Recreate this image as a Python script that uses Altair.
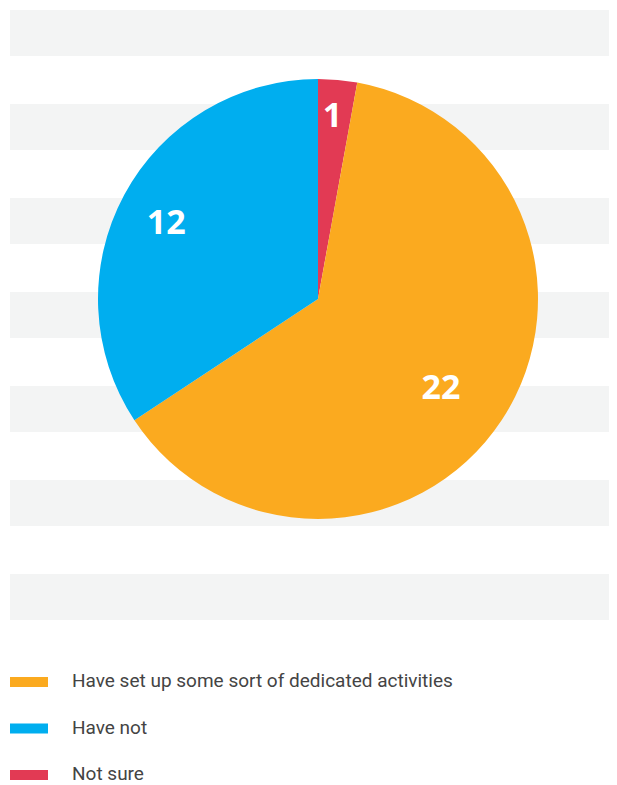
import altair as alt
import pandas as pd

# Data
categories = ["Not sure", "Have set up some sort of dedicated activities", "Have not"]
values = [1, 22, 12]
colors = ["#E23A54", "#FBAA1F", "#00AEEF"]
legend_order = ["Have set up some sort of dedicated activities", "Have not", "Not sure"]
band_rows = list(range(7))

pie_df = pd.DataFrame({"category": categories, "value": values, "order": [0, 1, 2]})
legend_df = pd.DataFrame({"category": legend_order})
bands_df = pd.DataFrame({"row": band_rows})

color_scale = alt.Scale(domain=categories, range=colors)
CX, CY = 310, 291

bands = alt.Chart(bands_df).mark_rect(color="#F3F4F4").encode(
    x=alt.value(2), x2=alt.value(601),
    y=alt.Y("row:O", axis=None,
            scale=alt.Scale(range=[2, 612], paddingInner=0.5106, paddingOuter=0)),
)

arc = alt.Chart(pie_df).mark_arc(outerRadius=220).encode(
    theta=alt.Theta("value:Q", stack=True),
    color=alt.Color("category:N", scale=color_scale, legend=None),
    order=alt.Order("order:Q"),
    x=alt.value(CX), y=alt.value(CY),
)


def label(cat, r, dx, dy):
    return alt.Chart(pie_df).mark_text(
        radius=r, font="Open Sans", fontSize=34, fontWeight="bold",
        color="white", align="center", baseline="middle", dx=dx, dy=dy,
    ).encode(
        theta=alt.Theta("value:Q", stack=True),
        order=alt.Order("order:Q"),
        text=alt.condition(f"datum.category === '{cat}'", alt.Text("value:Q"), alt.value("")),
        x=alt.value(CX), y=alt.value(CY),
    )


lab1 = label("Not sure", 184, -2, 1)
lab2 = label("Have set up some sort of dedicated activities", 151, -3, 7)
lab3 = label("Have not", 169, -3, 5)

leg_y = alt.Y("category:N", sort=legend_order, axis=None,
              scale=alt.Scale(range=[674, 767], padding=0))

leg_sym = alt.Chart(legend_df).mark_point(
    shape="M-1,-0.263H1V0.263H-1Z", size=1444, filled=True, opacity=1, strokeWidth=0,
).encode(
    x=alt.value(21), y=leg_y,
    color=alt.Color("category:N", scale=color_scale, legend=None),
)

leg_txt = alt.Chart(legend_df).mark_text(
    align="left", baseline="middle", font="Roboto", fontSize=19, color="#444444", dy=-1,
).encode(
    x=alt.value(64), y=leg_y, text="category:N",
)

chart = alt.layer(bands, arc, lab1, lab2, lab3, leg_sym, leg_txt).resolve_scale(
    y="independent"
).properties(
    width=601, height=777, padding=0, autosize="none"
).configure_view(stroke=None)

chart.save("out.html", embed_options={"renderer": "svg", "actions": False})
